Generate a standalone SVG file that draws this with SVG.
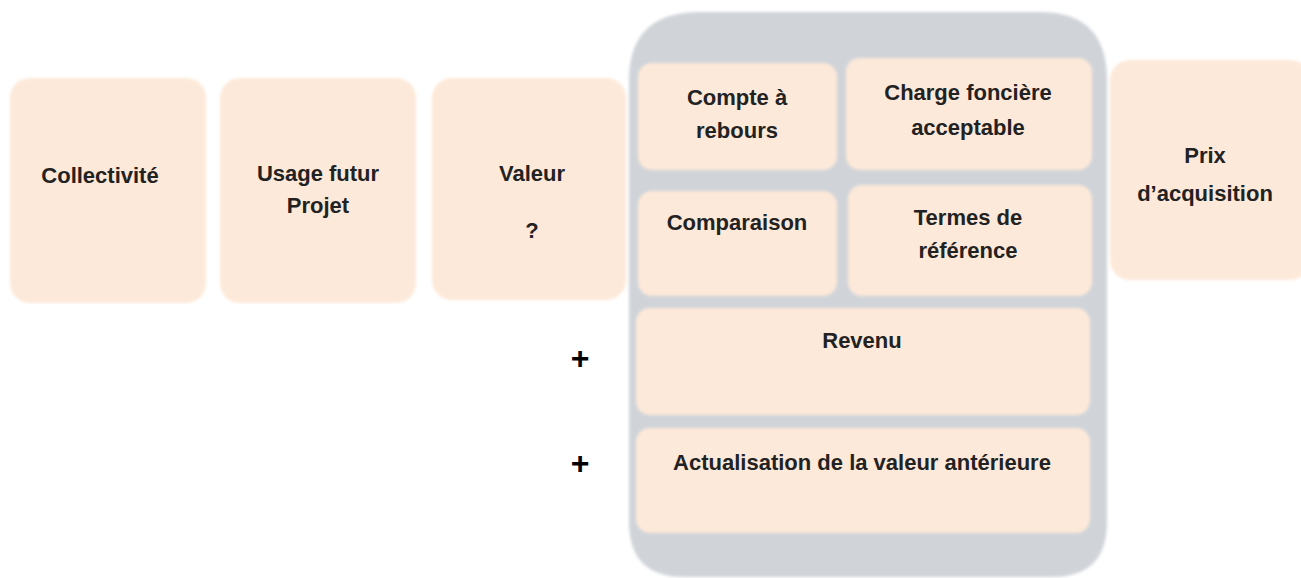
<svg xmlns="http://www.w3.org/2000/svg" width="1301" height="578" viewBox="0 0 1301 578">
<defs>
<filter id="soft" x="-5%" y="-5%" width="110%" height="110%"><feGaussianBlur stdDeviation="1.5"/></filter>
</defs>
<style>
.box{fill:#fde9d9;filter:url(#soft)}
.cont{fill:#d0d4d9;filter:url(#soft)}
text{font-family:"Liberation Sans",Arial,sans-serif;font-weight:bold;font-size:22px;fill:#222;text-anchor:middle}
.plus{font-size:32px;fill:#000}
</style>
<rect width="1301" height="578" fill="#ffffff"/>
<g id="container">
<path class="cont" d="M700,12 H1040 Q1107,12 1107,80 V522 Q1107,577 1052,577 H684 Q629,577 629,522 V80 Q629,12 700,12 Z"/>
</g>
<g id="collectivite">
<rect class="box" x="10" y="78" width="196" height="225" rx="20"/>
<text x="100" y="183">Collectivité</text>
</g>
<g id="usage">
<rect class="box" x="220" y="78" width="196" height="225" rx="20"/>
<text x="318" y="181">Usage futur</text>
<text x="318" y="213">Projet</text>
</g>
<g id="valeur">
<rect class="box" x="432" y="78" width="194" height="222" rx="20"/>
<text x="532" y="181">Valeur</text>
<text x="532" y="238">?</text>
</g>
<g id="compte">
<rect class="box" x="638" y="63" width="199" height="107" rx="14"/>
<text x="737" y="105">Compte à</text>
<text x="737" y="138">rebours</text>
</g>
<g id="charge">
<rect class="box" x="846" y="58" width="246" height="112" rx="14"/>
<text x="968" y="100">Charge foncière</text>
<text x="968" y="135">acceptable</text>
</g>
<g id="comparaison">
<rect class="box" x="638" y="191" width="199" height="105" rx="14"/>
<text x="737" y="230">Comparaison</text>
</g>
<g id="termes">
<rect class="box" x="848" y="185" width="244" height="111" rx="14"/>
<text x="968" y="225">Termes de</text>
<text x="968" y="258">référence</text>
</g>
<g id="revenu">
<rect class="box" x="636" y="308" width="454" height="107" rx="14"/>
<text x="862" y="348">Revenu</text>
</g>
<g id="actualisation">
<rect class="box" x="636" y="428" width="454" height="105" rx="14"/>
<text x="862" y="470">Actualisation de la valeur antérieure</text>
</g>
<g id="prix">
<rect class="box" x="1110" y="60" width="200" height="220" rx="20"/>
<text x="1205" y="163">Prix</text>
<text x="1205" y="201">d’acquisition</text>
</g>
<g id="connectors">
<text class="plus" x="580" y="369">+</text>
<text class="plus" x="580" y="474">+</text>
</g>
</svg>
